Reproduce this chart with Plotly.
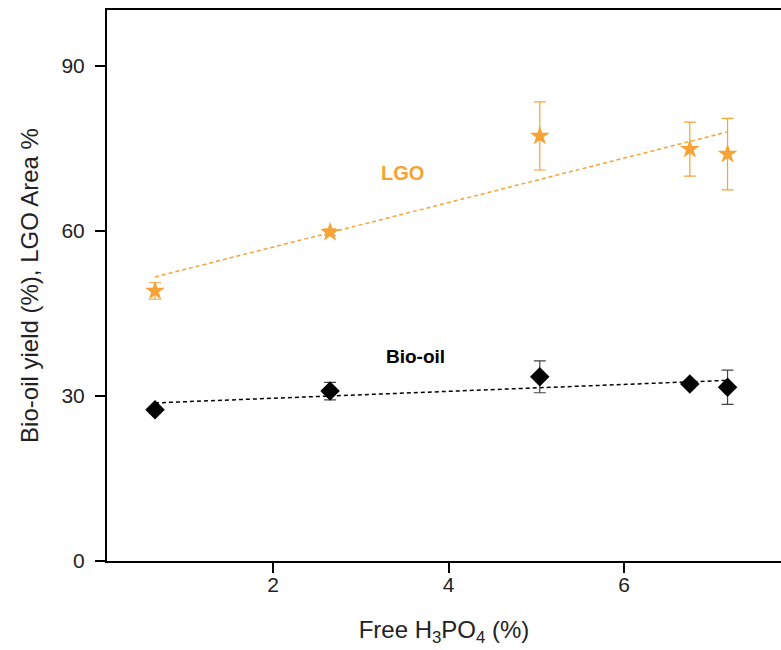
import numpy as np
import plotly.graph_objects as go

# Data
free_h3po4 = [0.655, 2.65, 5.04, 6.75, 7.18]
lgo_area = [49.1, 59.8, 77.3, 74.9, 74.0]
lgo_err = [1.5, 0.6, 6.2, 4.9, 6.5]
biooil_yield = [27.5, 30.9, 33.5, 32.2, 31.6]
biooil_err = [0.6, 1.6, 2.9, 0.5, 3.1]
y_ticks = [0, 30, 60, 90]
x_ticks = [2, 4, 6]

ORANGE = "#F7A234"
FONT = "Liberation Sans, Arial, sans-serif"

x_arr = np.array(free_h3po4)
x_fit = np.array([x_arr.min(), x_arr.max()])
lgo_fit = np.polyval(np.polyfit(x_arr, lgo_area, 1), x_fit)
bio_fit = np.polyval(np.polyfit(x_arr, biooil_yield, 1), x_fit)

fig = go.Figure()

fig.add_trace(go.Scatter(x=x_fit, y=lgo_fit, mode="lines",
                         line=dict(color=ORANGE, width=1.5, dash="4px,3px"),
                         showlegend=False, hoverinfo="skip"))
fig.add_trace(go.Scatter(x=x_fit, y=bio_fit, mode="lines",
                         line=dict(color="black", width=1.5, dash="4px,3px"),
                         showlegend=False, hoverinfo="skip"))

fig.add_trace(go.Scatter(
    x=free_h3po4, y=lgo_area, mode="markers", name="LGO",
    marker=dict(symbol="star", size=15, color=ORANGE, line=dict(width=0)),
    error_y=dict(type="data", array=lgo_err, visible=True, color=ORANGE,
                 thickness=1.2, width=6),
    showlegend=False))
fig.add_trace(go.Scatter(
    x=free_h3po4, y=biooil_yield, mode="markers", name="Bio-oil",
    marker=dict(symbol="diamond", size=15, color="black", line=dict(width=0)),
    error_y=dict(type="data", array=biooil_err, visible=True, color="#444444",
                 thickness=1.2, width=6),
    showlegend=False))

fig.add_annotation(x=3.48, y=70.5, text="<b>LGO</b>", showarrow=False,
                   font=dict(family=FONT, size=20, color=ORANGE))
fig.add_annotation(x=3.62, y=37.1, text="<b>Bio-oil</b>", showarrow=False,
                   font=dict(family=FONT, size=19, color="black"))

fig.update_layout(
    width=781, height=650,
    margin=dict(l=107, r=0, t=10, b=89),
    plot_bgcolor="white", paper_bgcolor="white",
    font=dict(family=FONT, size=21, color="#222222"),
    xaxis=dict(range=[0.108, 7.789], tickvals=x_ticks, showline=True,
               linecolor="black", linewidth=2, mirror=True, ticks="outside",
               ticklen=10, tickwidth=2, tickcolor="black", showgrid=False,
               zeroline=False, ticklabelstandoff=-6,
               title=dict(text="Free H<sub>3</sub>PO<sub>4</sub> (%)",
                          font=dict(size=24, family=FONT), standoff=26)),
    yaxis=dict(range=[0, 100.2], tickvals=y_ticks, showline=True,
               linecolor="black", linewidth=2, mirror=False, ticks="outside",
               ticklen=10, tickwidth=2, tickcolor="black", showgrid=False,
               zeroline=False, ticklabelstandoff=6,
               title=dict(text="Bio-oil yield (%), LGO Area %",
                          font=dict(size=24, family=FONT), standoff=16)),
)

fig.write_html("out.html")
